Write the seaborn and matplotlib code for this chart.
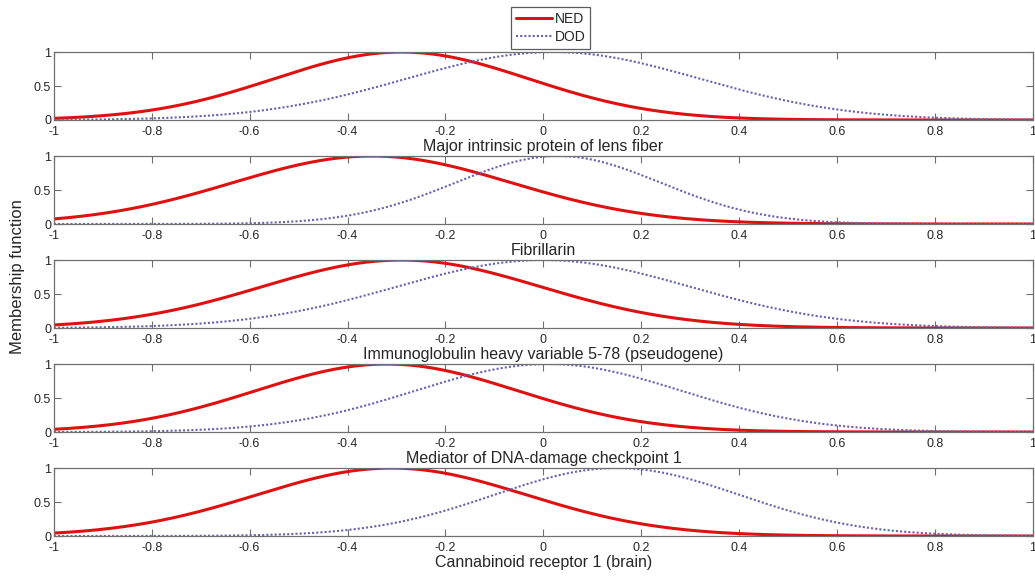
import numpy as np
import pandas as pd
import matplotlib
matplotlib.use("Agg")
import matplotlib.pyplot as plt
import seaborn as sns

# Gene names (panel titles)
genes = [
    "Major intrinsic protein of lens fiber",
    "Fibrillarin",
    "Immunoglobulin heavy variable 5-78 (pseudogene)",
    "Mediator of DNA-damage checkpoint 1",
    "Cannabinoid receptor 1 (brain)",
]
# Gaussian membership function parameters
ned_center = [-0.29, -0.35, -0.29, -0.32, -0.31]
ned_sigma = [0.26, 0.285, 0.285, 0.268, 0.275]
dod_center = [0.02, 0.03, 0.00, 0.01, 0.15]
dod_sigma = [0.30, 0.21, 0.30, 0.272, 0.25]
series = ["NED", "DOD"]
x_ticks = [-1, -0.8, -0.6, -0.4, -0.2, 0, 0.2, 0.4, 0.6, 0.8, 1]
x_tick_labels = ["-1", "-0.8", "-0.6", "-0.4", "-0.2", "0", "0.2", "0.4", "0.6", "0.8", "1"]
y_ticks = [0, 0.5, 1]
y_tick_labels = ["0", "0.5", "1"]

sns.set_style("ticks")
plt.rcParams["font.family"] = ["Liberation Sans", "DejaVu Sans"]

xs = np.linspace(-1, 1, 801)
rows = []
for i, g in enumerate(genes):
    for s, c, sg in (("NED", ned_center[i], ned_sigma[i]), ("DOD", dod_center[i], dod_sigma[i])):
        ys = np.exp(-((xs - c) ** 2) / (2 * sg ** 2))
        rows.append(pd.DataFrame({"gene": g, "series": s, "x": xs, "y": ys}))
df = pd.concat(rows, ignore_index=True)

fig, axes = plt.subplots(5, 1, figsize=(10.35, 5.76), dpi=100)
fig.subplots_adjust(left=0.052, right=0.998, top=0.9097, bottom=0.0694, hspace=0.53)

palette = {"NED": "#e01010", "DOD": "#6464b0"}
edge = "#707070"
for i, (ax, g) in enumerate(zip(axes, genes)):
    sub = df[df.gene == g]
    sns.lineplot(data=sub[sub.series == "NED"], x="x", y="y", ax=ax, color=palette["NED"],
                 lw=2.2, label="NED", legend=False)
    sns.lineplot(data=sub[sub.series == "DOD"], x="x", y="y", ax=ax, color=palette["DOD"],
                 lw=1.5, linestyle=(0, (1, 1)), label="DOD", legend=False)
    ax.set_xlim(-1, 1)
    ax.set_ylim(0, 1)
    ax.set_xticks(x_ticks)
    ax.set_xticklabels(x_tick_labels)
    ax.set_yticks(y_ticks)
    ax.set_yticklabels(y_tick_labels)
    ax.tick_params(direction="in", length=5, width=0.8, color=edge, labelsize=9,
                   top=True, right=True)
    ax.tick_params(axis="x", pad=4)
    ax.tick_params(axis="y", pad=2)
    for sp in ax.spines.values():
        sp.set_color(edge)
        sp.set_linewidth(0.9)
    ax.set_xlabel(g, fontsize=11.5, labelpad=1)
    ax.set_ylabel("")

fig.text(0.017, 0.52, "Membership function", rotation=90, va="center", ha="center", fontsize=12)

handles, labels = axes[0].get_legend_handles_labels()
leg = fig.legend(handles, labels, loc="upper center", bbox_to_anchor=(0.532, 0.988),
                 fontsize=10, frameon=True, fancybox=False, handlelength=2.6,
                 borderpad=0.35, labelspacing=0.3, handletextpad=0.2, borderaxespad=0)
leg.get_frame().set_edgecolor("#333333")
leg.get_frame().set_linewidth(0.9)

fig.savefig("out.png", dpi=100)
